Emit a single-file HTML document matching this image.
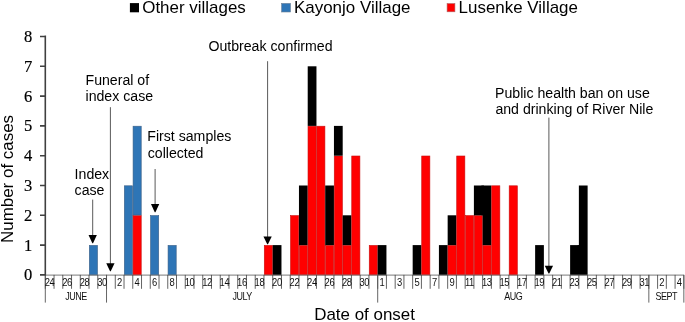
<!DOCTYPE html>
<html lang="en"><head><meta charset="utf-8"><title>Epidemic curve</title>
<style>html,body{margin:0;padding:0;background:#fff}body{width:685px;height:322px;overflow:hidden}</style></head>
<body>
<svg width="685" height="322" viewBox="0 0 685 322" style="display:block">
<rect width="685" height="322" fill="#fff"/>
<g>
<rect x="89.33" y="245.40" width="8.15" height="29.60" fill="#2e75b6" stroke="#3b5f86" stroke-width="0.6"/>
<rect x="124.32" y="185.80" width="8.15" height="89.20" fill="#2e75b6" stroke="#3b5f86" stroke-width="0.6"/>
<rect x="133.07" y="215.60" width="8.15" height="59.40" fill="#ff0000" stroke="#c81010" stroke-width="0.6"/>
<rect x="133.07" y="126.20" width="8.15" height="88.80" fill="#2e75b6" stroke="#3b5f86" stroke-width="0.6"/>
<rect x="150.56" y="215.60" width="8.15" height="59.40" fill="#2e75b6" stroke="#3b5f86" stroke-width="0.6"/>
<rect x="168.06" y="245.40" width="8.15" height="29.60" fill="#2e75b6" stroke="#3b5f86" stroke-width="0.6"/>
<rect x="264.28" y="245.40" width="8.15" height="29.60" fill="#ff0000" stroke="#c81010" stroke-width="0.6"/>
<rect x="272.72" y="245.10" width="8.75" height="30.20" fill="#000000"/>
<rect x="290.52" y="215.60" width="8.15" height="59.40" fill="#ff0000" stroke="#c81010" stroke-width="0.6"/>
<rect x="299.26" y="245.40" width="8.15" height="29.60" fill="#ff0000" stroke="#c81010" stroke-width="0.6"/>
<rect x="298.96" y="185.50" width="8.75" height="59.60" fill="#000000"/>
<rect x="308.01" y="126.20" width="8.15" height="148.80" fill="#ff0000" stroke="#c81010" stroke-width="0.6"/>
<rect x="307.71" y="66.30" width="8.75" height="59.60" fill="#000000"/>
<rect x="316.76" y="126.20" width="8.15" height="148.80" fill="#ff0000" stroke="#c81010" stroke-width="0.6"/>
<rect x="325.50" y="245.40" width="8.15" height="29.60" fill="#ff0000" stroke="#c81010" stroke-width="0.6"/>
<rect x="325.20" y="185.50" width="8.75" height="59.60" fill="#000000"/>
<rect x="334.25" y="156.00" width="8.15" height="119.00" fill="#ff0000" stroke="#c81010" stroke-width="0.6"/>
<rect x="333.95" y="125.90" width="8.75" height="29.80" fill="#000000"/>
<rect x="343.00" y="245.40" width="8.15" height="29.60" fill="#ff0000" stroke="#c81010" stroke-width="0.6"/>
<rect x="342.70" y="215.30" width="8.75" height="29.80" fill="#000000"/>
<rect x="351.75" y="156.00" width="8.15" height="119.00" fill="#ff0000" stroke="#c81010" stroke-width="0.6"/>
<rect x="369.24" y="245.40" width="8.15" height="29.60" fill="#ff0000" stroke="#c81010" stroke-width="0.6"/>
<rect x="377.69" y="245.10" width="8.75" height="30.20" fill="#000000"/>
<rect x="412.67" y="245.10" width="8.75" height="30.20" fill="#000000"/>
<rect x="421.72" y="156.00" width="8.15" height="119.00" fill="#ff0000" stroke="#c81010" stroke-width="0.6"/>
<rect x="438.92" y="245.10" width="8.75" height="30.20" fill="#000000"/>
<rect x="447.96" y="245.40" width="8.15" height="29.60" fill="#ff0000" stroke="#c81010" stroke-width="0.6"/>
<rect x="447.66" y="215.30" width="8.75" height="29.80" fill="#000000"/>
<rect x="456.71" y="156.00" width="8.15" height="119.00" fill="#ff0000" stroke="#c81010" stroke-width="0.6"/>
<rect x="465.46" y="215.60" width="8.15" height="59.40" fill="#ff0000" stroke="#c81010" stroke-width="0.6"/>
<rect x="474.20" y="215.60" width="8.15" height="59.40" fill="#ff0000" stroke="#c81010" stroke-width="0.6"/>
<rect x="473.90" y="185.50" width="8.75" height="29.80" fill="#000000"/>
<rect x="482.95" y="245.40" width="8.15" height="29.60" fill="#ff0000" stroke="#c81010" stroke-width="0.6"/>
<rect x="482.65" y="185.50" width="8.75" height="59.60" fill="#000000"/>
<rect x="491.70" y="185.80" width="8.15" height="89.20" fill="#ff0000" stroke="#c81010" stroke-width="0.6"/>
<rect x="509.19" y="185.80" width="8.15" height="89.20" fill="#ff0000" stroke="#c81010" stroke-width="0.6"/>
<rect x="535.13" y="245.10" width="8.75" height="30.20" fill="#000000"/>
<rect x="570.12" y="245.10" width="8.75" height="30.20" fill="#000000"/>
<rect x="578.87" y="185.50" width="8.75" height="89.80" fill="#000000"/>
<rect x="481.45" y="185.50" width="2.4" height="29.80" fill="#000"/>
<rect x="577.67" y="245.10" width="2.4" height="29.80" fill="#000"/>
</g>
<line x1="45.3" y1="275.09999999999997" x2="683.83" y2="275.09999999999997" stroke="#7a7a7a" stroke-width="1"/>
<path d="M45.30 274.9V288.8M54.05 274.9V288.8M62.79 274.9V288.8M71.54 274.9V288.8M80.29 274.9V288.8M89.03 274.9V288.8M97.78 274.9V288.8M106.53 274.9V288.8M115.28 274.9V288.8M124.02 274.9V288.8M132.77 274.9V288.8M141.52 274.9V288.8M150.26 274.9V288.8M159.01 274.9V288.8M167.76 274.9V288.8M176.50 274.9V288.8M185.25 274.9V288.8M194.00 274.9V288.8M202.75 274.9V288.8M211.49 274.9V288.8M220.24 274.9V288.8M228.99 274.9V288.8M237.73 274.9V288.8M246.48 274.9V288.8M255.23 274.9V288.8M263.98 274.9V288.8M272.72 274.9V288.8M281.47 274.9V288.8M290.22 274.9V288.8M298.96 274.9V288.8M307.71 274.9V288.8M316.46 274.9V288.8M325.20 274.9V288.8M333.95 274.9V288.8M342.70 274.9V288.8M351.44 274.9V288.8M360.19 274.9V288.8M368.94 274.9V288.8M377.69 274.9V288.8M386.43 274.9V288.8M395.18 274.9V288.8M403.93 274.9V288.8M412.67 274.9V288.8M421.42 274.9V288.8M430.17 274.9V288.8M438.92 274.9V288.8M447.66 274.9V288.8M456.41 274.9V288.8M465.16 274.9V288.8M473.90 274.9V288.8M482.65 274.9V288.8M491.40 274.9V288.8M500.14 274.9V288.8M508.89 274.9V288.8M517.64 274.9V288.8M526.38 274.9V288.8M535.13 274.9V288.8M543.88 274.9V288.8M552.63 274.9V288.8M561.37 274.9V288.8M570.12 274.9V288.8M578.87 274.9V288.8M587.61 274.9V288.8M596.36 274.9V288.8M605.11 274.9V288.8M613.85 274.9V288.8M622.60 274.9V288.8M631.35 274.9V288.8M640.10 274.9V288.8M648.84 274.9V288.8M657.59 274.9V288.8M666.34 274.9V288.8M675.08 274.9V288.8M683.83 274.9V288.8" stroke="#3c3c3c" stroke-width="0.8" fill="none"/>
<path d="M45.30 274.9V302.6M106.53 274.9V302.6M377.69 274.9V302.6M648.84 274.9V302.6M683.83 274.9V302.6" stroke="#555" stroke-width="0.9" fill="none"/>
<path d="M45.3 35.6V275.59999999999997M40 274.90H45.3M40 245.10H45.3M40 215.30H45.3M40 185.50H45.3M40 155.70H45.3M40 125.90H45.3M40 96.10H45.3M40 66.30H45.3M40 36.50H45.3" stroke="#404040" stroke-width="1.6" fill="none"/>
<g font-family="'Liberation Serif', serif" font-size="16.5" fill="#000" stroke="#000" stroke-width="0.2" text-anchor="end">
<text x="32.2" y="280.30">0</text>
<text x="32.2" y="250.50">1</text>
<text x="32.2" y="220.70">2</text>
<text x="32.2" y="190.90">3</text>
<text x="32.2" y="161.10">4</text>
<text x="32.2" y="131.30">5</text>
<text x="32.2" y="101.50">6</text>
<text x="32.2" y="71.70">7</text>
<text x="32.2" y="41.90">8</text>
</g>
<g font-family="'Liberation Sans', sans-serif" font-size="10.7" fill="#111" text-anchor="middle" letter-spacing="-0.5">
<text transform="translate(49.47 285.7) scale(0.88 1)">24</text>
<text transform="translate(66.97 285.7) scale(0.88 1)">26</text>
<text transform="translate(84.46 285.7) scale(0.88 1)">28</text>
<text transform="translate(101.96 285.7) scale(0.88 1)">30</text>
<text transform="translate(119.45 285.7) scale(0.88 1)">2</text>
<text transform="translate(136.94 285.7) scale(0.88 1)">4</text>
<text transform="translate(154.44 285.7) scale(0.88 1)">6</text>
<text transform="translate(171.93 285.7) scale(0.88 1)">8</text>
<text transform="translate(189.43 285.7) scale(0.88 1)">10</text>
<text transform="translate(206.92 285.7) scale(0.88 1)">12</text>
<text transform="translate(224.41 285.7) scale(0.88 1)">14</text>
<text transform="translate(241.91 285.7) scale(0.88 1)">16</text>
<text transform="translate(259.40 285.7) scale(0.88 1)">18</text>
<text transform="translate(276.90 285.7) scale(0.88 1)">20</text>
<text transform="translate(294.39 285.7) scale(0.88 1)">22</text>
<text transform="translate(311.88 285.7) scale(0.88 1)">24</text>
<text transform="translate(329.38 285.7) scale(0.88 1)">26</text>
<text transform="translate(346.87 285.7) scale(0.88 1)">28</text>
<text transform="translate(364.37 285.7) scale(0.88 1)">30</text>
<text transform="translate(381.86 285.7) scale(0.88 1)">1</text>
<text transform="translate(399.35 285.7) scale(0.88 1)">3</text>
<text transform="translate(416.85 285.7) scale(0.88 1)">5</text>
<text transform="translate(434.34 285.7) scale(0.88 1)">7</text>
<text transform="translate(451.84 285.7) scale(0.88 1)">9</text>
<text transform="translate(469.33 285.7) scale(0.88 1)">11</text>
<text transform="translate(486.82 285.7) scale(0.88 1)">13</text>
<text transform="translate(504.32 285.7) scale(0.88 1)">15</text>
<text transform="translate(521.81 285.7) scale(0.88 1)">17</text>
<text transform="translate(539.31 285.7) scale(0.88 1)">19</text>
<text transform="translate(556.80 285.7) scale(0.88 1)">21</text>
<text transform="translate(574.29 285.7) scale(0.88 1)">23</text>
<text transform="translate(591.79 285.7) scale(0.88 1)">25</text>
<text transform="translate(609.28 285.7) scale(0.88 1)">27</text>
<text transform="translate(626.78 285.7) scale(0.88 1)">29</text>
<text transform="translate(644.27 285.7) scale(0.88 1)">31</text>
<text transform="translate(661.76 285.7) scale(0.88 1)">2</text>
<text transform="translate(679.26 285.7) scale(0.88 1)">4</text>
</g>
<g font-family="'Liberation Sans', sans-serif" font-size="10.7" fill="#111" text-anchor="middle" letter-spacing="-0.6">
<text transform="translate(75.91 300.1) scale(0.84 1)">JUNE</text>
<text transform="translate(242.11 300.1) scale(0.84 1)">JULY</text>
<text transform="translate(513.26 300.1) scale(0.84 1)">AUG</text>
<text transform="translate(666.34 300.1) scale(0.84 1)">SEPT</text>
</g>
<g font-family="'Liberation Sans', sans-serif" fill="#000">
<text transform="translate(12.7 243) rotate(-90) scale(1.06 1)" font-size="16">Number of cases</text>
<text transform="translate(314.2 320.4) scale(1.06 1)" font-size="16">Date of onset</text>
<rect x="129.9" y="3.1" width="9.1" height="9.2" fill="#000"/>
<text transform="translate(142.2 12.9) scale(1.06 1)" font-size="16">Other villages</text>
<rect x="281.6" y="3.4" width="8.9" height="8.6" fill="#2e75b6" stroke="#6b7f95" stroke-width="0.6"/>
<text transform="translate(294.0 12.9) scale(1.06 1)" font-size="16">Kayonjo Village</text>
<rect x="447.1" y="3.6" width="7.8" height="8.2" fill="#ff0000" stroke="#b06060" stroke-width="0.6"/>
<text transform="translate(458.6 12.9) scale(1.06 1)" font-size="16">Lusenke Village</text>
<text transform="translate(85.5 84.8) scale(1.01 1)" font-size="14">Funeral of</text>
<text transform="translate(85.5 101) scale(1.01 1)" font-size="14">index case</text>
<text transform="translate(74.6 179.2) scale(1.01 1)" font-size="14">Index</text>
<text transform="translate(74.6 195.4) scale(1.01 1)" font-size="14">case</text>
<text transform="translate(147.3 141.1) scale(1.01 1)" font-size="14">First samples</text>
<text transform="translate(147.7 157.5) scale(1.01 1)" font-size="14">collected</text>
<text transform="translate(208.4 50.7) scale(1.01 1)" font-size="14">Outbreak confirmed</text>
<text transform="translate(495.0 97.7) scale(1.01 1)" font-size="14">Public health ban on use</text>
<text transform="translate(495.4 114.4) scale(1.01 1)" font-size="14">and drinking of River Nile</text>
</g>
<line x1="92.7" y1="199.6" x2="92.7" y2="236.1" stroke="#5a5a5a" stroke-width="1"/><path d="M88.55 235.1H96.85000000000001L93.05 243.2H92.35000000000001Z" fill="#000"/>
<line x1="110.4" y1="107.2" x2="110.4" y2="264.2" stroke="#5a5a5a" stroke-width="1"/><path d="M106.25 263.2H114.55000000000001L110.75 271.2H110.05000000000001Z" fill="#000"/>
<line x1="155.1" y1="169.0" x2="155.1" y2="205.0" stroke="#5a5a5a" stroke-width="1"/><path d="M150.95 204.0H159.25L155.45 212.3H154.75Z" fill="#000"/>
<line x1="267.6" y1="61.2" x2="267.6" y2="237.4" stroke="#5a5a5a" stroke-width="1"/><path d="M263.45000000000005 236.4H271.75L267.95000000000005 244.3H267.25Z" fill="#000"/>
<line x1="548.9" y1="117.6" x2="548.9" y2="266.7" stroke="#5a5a5a" stroke-width="1"/><path d="M544.75 265.7H553.05L549.25 273.5H548.55Z" fill="#000"/>
</svg>
</body></html>
